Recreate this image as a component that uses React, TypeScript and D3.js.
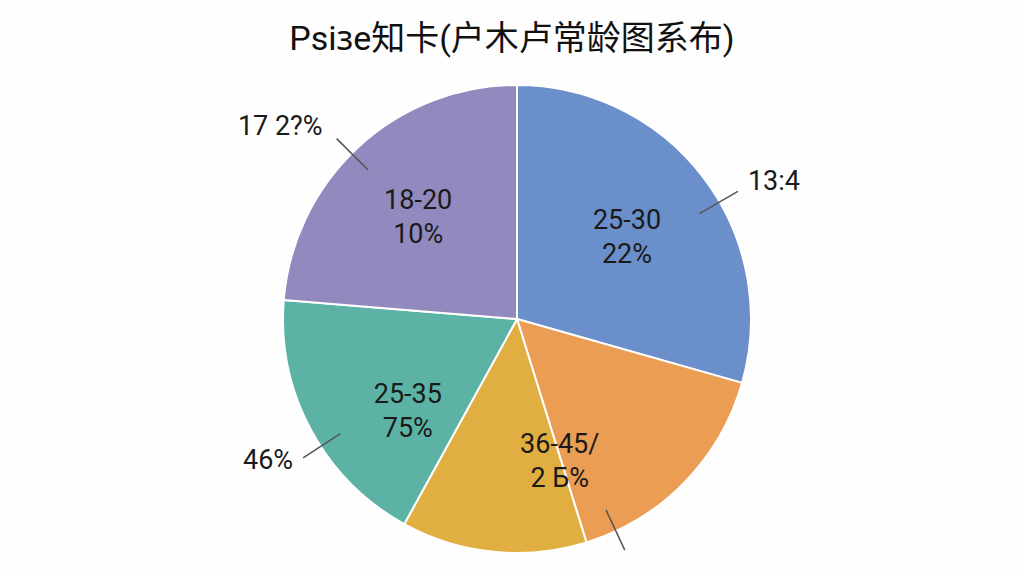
import React from "react";
import * as d3 from "d3";

const title = "Psiɜe知卡(户木卢常龄图系布)";
const sliceNames = ["25-30", "36-45", "yellow", "25-35", "18-20"];
const sliceValues = [29.4, 15.8, 12.8, 18.3, 23.7];
const sliceColors = ["#6a8fca", "#eb9d53", "#e1ae42", "#5cb3a5", "#928abf"];
const innerLabels: string[][] = [["25-30", "22%"], ["36-45/", "2 Б%"], [], ["25-35", "75%"], ["18-20", "10%"]];
const outerLabels = ["13:4", "", "", "46%", "17 2?%"];

const W = 1024, H = 576;
const cx = 517, cy = 319, R = 234;
// layout: label angle (deg, clockwise from top) and radius
const innerPlace: [number, number][] = [[53.4, 137], [163.2, 148], [0, 0], [229.8, 143], [315.9, 142]];
const leaderAngle = [60, 155, 0, 237, 315];
const outerOffset: [number, number][] = [[10, -1], [0, 0], [0, 0], [-10, 11], [-14, -4]];

function pt(angleDeg: number, r: number): [number, number] {
  const a = (angleDeg * Math.PI) / 180;
  return [r * Math.sin(a), -r * Math.cos(a)];
}

export default function App() {
  const pie = d3.pie<number>().sort(null).value((d) => d)(sliceValues);
  const arc = d3.arc<d3.PieArcDatum<number>>().innerRadius(0).outerRadius(R);
  const font = "Roboto, 'Noto Sans', 'Noto Sans CJK SC', sans-serif";
  return (
    <svg width={W} height={H} style={{ position: "absolute", left: 0, top: 0, background: "#fefefe" }}>
      <rect width={W} height={H} fill="#fefefe" />
      <text x={512} y={50} textAnchor="middle" fontSize={34} fill="#111" fontFamily={font}>
        {title}
      </text>
      <g transform={`translate(${cx},${cy})`}>
        {pie.map((d, i) => (
          <path key={sliceNames[i]} d={arc(d) || ""} fill={sliceColors[i]} stroke="#fff" strokeWidth={2} strokeLinejoin="round" />
        ))}
        {pie.map((d, i) => {
          const lines = innerLabels[i];
          if (!lines.length) return null;
          const [x, y] = pt(innerPlace[i][0], innerPlace[i][1]);
          return (
            <text key={"in" + i} x={x} y={y} textAnchor="middle" fontSize={27} fill="#1a1a1a" fontFamily={font}>
              {lines.map((l, j) => (
                <tspan key={j} x={x} y={y - 8 + j * 34}>{l}</tspan>
              ))}
            </text>
          );
        })}
        {pie.map((d, i) => {
          if (i === 2) return null;
          const a = leaderAngle[i];
          const [x1, y1] = pt(a, 0.9 * R);
          const [x2, y2] = pt(a, 1.09 * R);
          const label = outerLabels[i];
          const right = Math.sin((a * Math.PI) / 180) > 0;
          return (
            <g key={"out" + i}>
              <line x1={x1} y1={y1} x2={x2} y2={y2} stroke="#555" strokeWidth={1.5} />
              {label && (
                <text
                  x={x2 + outerOffset[i][0]}
                  y={y2 + outerOffset[i][1]}
                  textAnchor={right ? "start" : "end"}
                  fontSize={27}
                  fill="#1a1a1a"
                  fontFamily={font}
                >
                  {label}
                </text>
              )}
            </g>
          );
        })}
      </g>
    </svg>
  );
}
